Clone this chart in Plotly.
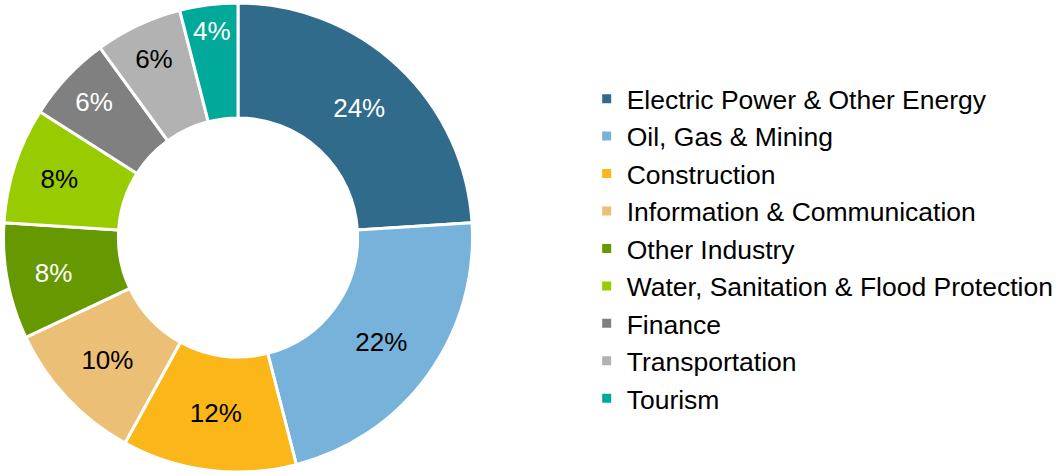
import plotly.graph_objects as go

sectors = ["Electric Power & Other Energy", "Oil, Gas & Mining", "Construction",
           "Information & Communication", "Other Industry",
           "Water, Sanitation & Flood Protection", "Finance", "Transportation", "Tourism"]
shares = [24, 22, 12, 10, 8, 8, 6, 6, 4]
colors = ["#306B8C", "#76B2DA", "#FBB61A", "#ECBF76", "#669900",
          "#99CC00", "#808080", "#B2B2B2", "#00A99A"]
label_colors = ["white", "black", "black", "black", "white",
                "black", "white", "black", "white"]

W, H = 1059, 475
font = "'Liberation Sans', Arial, sans-serif"

fig = go.Figure(go.Pie(
    labels=sectors,
    values=shares,
    sort=False,
    direction="clockwise",
    rotation=0,
    hole=0.51,
    marker=dict(colors=colors, line=dict(color="white", width=3)),
    textinfo="percent",
    textposition="inside",
    insidetextorientation="horizontal",
    textfont=dict(family=font, size=26, color=label_colors),
    domain=dict(x=[3 / W, 473 / W], y=[3 / H, 472 / H]),
))

fig.update_layout(
    width=W, height=H,
    margin=dict(l=0, r=0, t=0, b=0),
    paper_bgcolor="white",
    font=dict(family=font, size=26, color="black"),
    legend=dict(x=0.554, xanchor="left", y=0.476, yanchor="middle",
                font=dict(size=26.5, color="black"), bgcolor="rgba(0,0,0,0)"),
    showlegend=True,
)

# drop the browser's default body margin so the figure sits at the page corner
fig.write_html("out.html", config={"displayModeBar": False},
               post_script="document.body.style.margin='0';")
